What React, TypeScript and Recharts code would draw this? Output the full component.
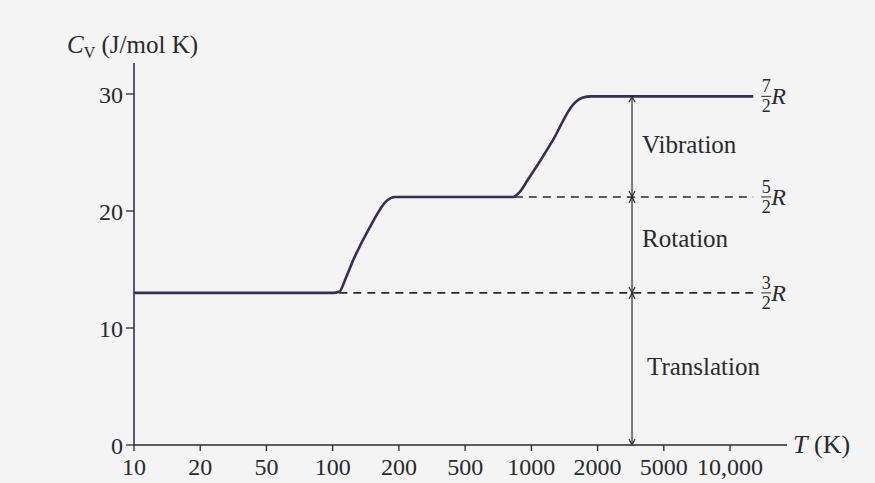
import React from "react";
import {
  LineChart,
  Line,
  XAxis,
  YAxis,
  ReferenceLine,
  ReferenceDot,
} from "recharts";

// Temperature tick labels (evenly spaced 1-2-5 log steps)
const tempLabels = ["10", "20", "50", "100", "200", "500", "1000", "2000", "5000", "10,000"];
const tempTickPositions = [0, 1, 2, 3, 4, 5, 6, 7, 8, 9];
const cvTicks = [0, 10, 20, 30];

// Heat capacity curve (x = tick index position)
const curveX = [0, 1, 2, 3.0, 3.1, 3.2, 3.31, 3.56, 3.82, 3.94, 4.2, 4.6, 5.0, 5.4, 5.72, 5.82, 5.94, 6.33, 6.63, 6.78, 6.9, 7.2, 8.0, 8.8, 9.35];
const curveY = [13.0, 13.0, 13.0, 13.0, 13.1, 14.3, 15.8, 18.6, 20.9, 21.2, 21.2, 21.2, 21.2, 21.2, 21.2, 21.6, 22.6, 26.1, 29.1, 29.7, 29.8, 29.8, 29.8, 29.8, 29.8];

// Plateau levels
const levelNames = ["3/2", "5/2", "7/2"];
const levelValues = [13.0, 21.2, 29.8];
const dashStart = [3.1, 5.75];
const lineEnd = 9.35;
const arrowX = 7.52;

// Region labels
const regionNames = ["Vibration", "Rotation", "Translation"];
const regionY = [24.96, 16.9, 5.98];
const regionDx = [10, 10, 15];

const data = curveX.map((x, i) => ({ x, cv: curveY[i] }));

const FONT = "'Liberation Serif', 'DejaVu Serif', serif";
const INK = "#2a2a2e";
const CURVE = "#3b2c52";

const ArrowHead = (dir: "up" | "down") => (props: any) => {
  const { cx, cy } = props;
  if (cx == null || cy == null) return <g />;
  const h = dir === "up" ? 6 : -6;
  return (
    <path
      d={`M${cx - 3},${cy + h} L${cx},${cy} L${cx + 3},${cy + h}`}
      fill="none"
      stroke={INK}
      strokeWidth={1.2}
    />
  );
};

const FractionLabel = (frac: string) => (props: any) => {
  const { cx, cy } = props;
  if (cx == null || cy == null) return <g />;
  const [num, den] = frac.split("/");
  return (
    <g fontFamily={FONT} fill={INK}>
      <text x={cx + 13} y={cy - 4} fontSize={18} textAnchor="middle">{num}</text>
      <line x1={cx + 8} x2={cx + 18} y1={cy} y2={cy} stroke={INK} strokeWidth={1} />
      <text x={cx + 13} y={cy + 16} fontSize={18} textAnchor="middle">{den}</text>
      <text x={cx + 18} y={cy + 8} fontSize={24} fontStyle="italic">R</text>
    </g>
  );
};

const RegionLabel = (name: string, dx: number) => (props: any) => {
  const { cx, cy } = props;
  if (cx == null || cy == null) return <g />;
  return (
    <text x={cx + dx} y={cy} fontFamily={FONT} fontSize={25} fill={INK}>
      {name}
    </text>
  );
};

export default function App() {
  return (
    <div style={{ width: 875, height: 483, background: "#f3f4f3" }}>
      <style>{`body{margin:0;}`}</style>
      <LineChart
        width={875}
        height={483}
        data={data}
        margin={{ top: 63, right: 88, bottom: 8, left: 0 }}
      >
        <XAxis
          dataKey="x"
          type="number"
          domain={[0, 9.86]}
          ticks={tempTickPositions}
          tickFormatter={(v: number) => tempLabels[v]}
          allowDataOverflow
          height={30}
          tickSize={6}
          tickMargin={7}
          axisLine={{ stroke: INK, strokeWidth: 1.6 }}
          tickLine={{ stroke: INK, strokeWidth: 1.3 }}
          tick={{ fill: INK, fontSize: 24, fontFamily: FONT }}
          interval={0}
        />
        <YAxis
          type="number"
          domain={[0, 32.65]}
          ticks={cvTicks}
          width={134}
          tickSize={8}
          tickMargin={3}
          axisLine={{ stroke: "#3a2f55", strokeWidth: 1.6 }}
          tickLine={{ stroke: INK, strokeWidth: 1.3 }}
          tick={{ fill: INK, fontSize: 24, fontFamily: FONT }}
          interval={0}
          label={{
            content: () => (
              <g>
                <text x={67} y={53} fontFamily={FONT} fontSize={25} fill={INK}>
                  <tspan fontStyle="italic">C</tspan>
                  <tspan fontSize={16} dy={5}>V</tspan>
                  <tspan dy={-5}> (J/mol K)</tspan>
                </text>
                <text x={793} y={453} fontFamily={FONT} fontSize={26} fill={INK}>
                  <tspan fontStyle="italic">T</tspan>
                  <tspan> (K)</tspan>
                </text>
              </g>
            ),
          }}
        />
        {/* dashed level lines */}
        <ReferenceLine
          segment={[{ x: dashStart[0], y: levelValues[0] }, { x: lineEnd, y: levelValues[0] }]}
          stroke={INK}
          strokeWidth={1.6}
          strokeDasharray="8 6"
        />
        <ReferenceLine
          segment={[{ x: dashStart[1], y: levelValues[1] }, { x: lineEnd, y: levelValues[1] }]}
          stroke={INK}
          strokeWidth={1.6}
          strokeDasharray="8 6"
        />
        {/* vertical arrow line */}
        <ReferenceLine
          segment={[{ x: arrowX, y: 0 }, { x: arrowX, y: levelValues[2] }]}
          stroke={INK}
          strokeWidth={1.2}
        />
        <Line
          type="monotone"
          dataKey="cv"
          stroke={CURVE}
          strokeWidth={2.6}
          dot={false}
          isAnimationActive={false}
        />
        {/* arrowheads */}
        <ReferenceDot x={arrowX} y={0} r={0} shape={ArrowHead("down")} />
        <ReferenceDot x={arrowX} y={levelValues[0]} r={0} shape={ArrowHead("up")} />
        <ReferenceDot x={arrowX} y={levelValues[0]} r={0} shape={ArrowHead("down")} />
        <ReferenceDot x={arrowX} y={levelValues[1]} r={0} shape={ArrowHead("up")} />
        <ReferenceDot x={arrowX} y={levelValues[1]} r={0} shape={ArrowHead("down")} />
        <ReferenceDot x={arrowX} y={levelValues[2]} r={0} shape={ArrowHead("up")} />
        {/* fraction labels */}
        {levelNames.map((n, i) => (
          <ReferenceDot key={n} x={lineEnd} y={levelValues[i]} r={0} shape={FractionLabel(n)} />
        ))}
        {/* region labels */}
        {regionNames.map((n, i) => (
          <ReferenceDot key={n} x={arrowX} y={regionY[i]} r={0} shape={RegionLabel(n, regionDx[i])} />
        ))}
      </LineChart>
    </div>
  );
}
